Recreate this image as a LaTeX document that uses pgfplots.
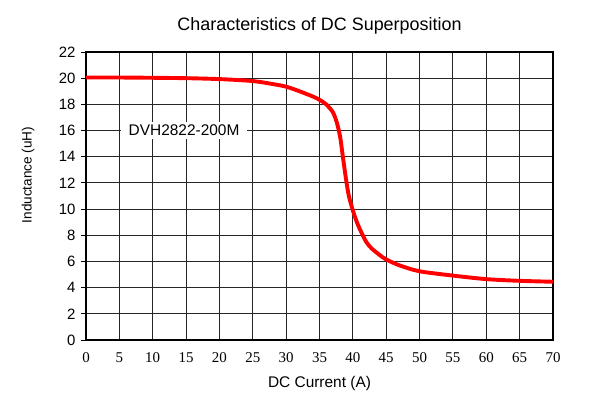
\documentclass[border=0pt]{standalone}
\usepackage{fontspec}
\setmainfont{Liberation Sans}
\newfontfamily\serif{Liberation Serif}
\usepackage{pgfplots}
\pgfplotsset{compat=1.18}
\begin{document}
\begin{tikzpicture}[x=1bp,y=1bp]
\useasboundingbox (0,0) rectangle (597,396);
\begin{axis}[
  at={(86bp,56bp)}, anchor=south west,
  width=467bp, height=288bp, scale only axis,
  xmin=0, xmax=70, ymin=0, ymax=22,
  xtick={0,5,...,70}, ytick={0,2,...,22},
  grid=major,
  major grid style={draw=black!85, line width=1bp},
  axis line style={line width=2bp},
  /pgf/number format/assume math mode=true,
  xticklabel style={font=\fontsize{15}{15}\selectfont\serif, yshift=-4bp},
  yticklabel style={font=\fontsize{15}{15}\selectfont, xshift=-2bp},
  x tick style={draw=none},
  ytick pos=left, tick align=outside,
  y tick style={line width=0.9bp, black},
  major tick length=5bp,
  clip=true,
]
\addplot[red, line width=3.9bp, smooth, tension=0.5] coordinates {
(0,20.05) (5,20.05) (10,20.03) (15,20.0) (20,19.93) (25,19.78) (28,19.55)
(30,19.35) (32,19.0) (34,18.6) (35,18.35) (36,18.0) (37,17.4) (37.6,16.6)
(38.1,15.5) (38.5,14.0) (39,12.2) (39.4,11.0) (40,9.9) (40.6,9.0) (41.2,8.3)
(42,7.5) (42.8,7.0) (44,6.5) (45,6.15) (47,5.7) (50,5.25) (55,4.92)
(60,4.65) (65,4.52) (70,4.45)
};
\node[fill=white, inner xsep=8bp, inner ysep=3bp, font=\fontsize{15.5}{15.5}\selectfont] at (axis cs:14.7,16) {DVH2822-200M};
\end{axis}
\node[font=\fontsize{18}{18}\selectfont] at (319.5,370) {Characteristics of DC Superposition};
\node[font=\fontsize{15.5}{15.5}\selectfont] at (319.5,13) {DC Current (A)};
\node[font=\fontsize{13.6}{13.6}\selectfont, rotate=90] at (28,221) {Inductance (uH)};
\end{tikzpicture}
\end{document}
